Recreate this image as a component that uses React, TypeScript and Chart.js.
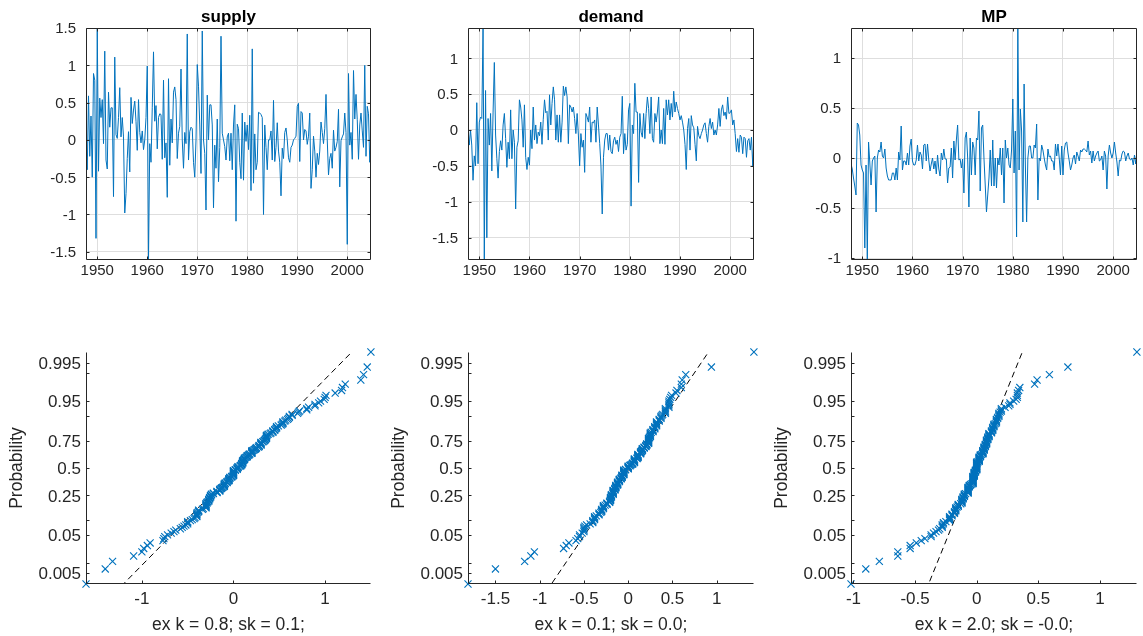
import React, { useEffect, useRef } from "react";
import { Chart, registerables } from "chart.js";

Chart.register(...registerables);

// ---------------- DATA ----------------
const START_YEAR = 1947.75;
const STEP = 0.25;

const seriesNames = ["supply", "demand", "MP"];

const supplyValues = [
  -0.09, -0.4, 0.59, -0.22, 0.32, -0.5, 0.89, 0.8, -1.32, 1.5,
  -0.42, 0.56, 0.3, 0.54, -0.05, 1.19, -0.27, -0.39, 0.64, 0.17, 0.43, 0.43, -0.76, 1.11, 0.07, 0.02, 0.3, 0.7, 0.04, 0.3, 0.04, -0.98,
  -0.72, -0.25, 0.11, -0.43, 0.57, 0.22, 0.4, 0.52, 0.25, -0.14, 0.54, 0.1, -0.04, 0.12, -0.13, 0.0, 0.3, 0.99,
  -1.61,
  -0.05, -0.3, 0.43, 1.18, 0.25, 0.46, -0.12, 0.3, 0.35, 0.34, -0.26, 0.8, -0.24, -0.04, -0.77, 0.82, -0.34, 0.28, -0.04, 0.64, 0.71, 0.54, -0.25, 0.09, 0.18, 0.95, 0.0, -0.38, 0.1, -0.05,
  1.42,
  -0.27, 0.11, 0.17, 0.15, -0.3, -0.5, 0.0, 1.01, 0.72, 0.2, -0.45,
  1.46,
  0.0, -0.18, -0.94, 0.6, 0.0, 0.47, 0.47, 0.2, -0.91, -0.07, -0.38, 0.28, -0.56, -0.1,
  1.39,
  0.09, 0.0, -0.09, -0.27, 0.04, 0.09, -0.28, 0.09, -0.4, 0.2, 0.47,
  -1.09,
  0.21, 0.15, -0.3, -0.52, 0.36, -0.54, 0.24, -0.02, 0.2, -0.13, 0.33, -0.68,
  1.22,
  -0.58, 0.08, -0.4, -0.3, 0.37, 0.36, 0.34, 0.3,
  -1.0,
  0.2, -0.1, -0.4, 0.0, 0.0, 0.12, -0.27, 0.53, -0.29, -0.1, 0.23, -0.15, -0.3, -0.75, -0.11, -0.25, 0.1, 0.16, 0.0, -0.24,
  -0.3, -0.1, -0.07, 0.0, 0.02, 0.05, 0.45, 0.49, -0.29, 0.38, 0.36, 0.0, 0.14, 0.12, -0.06, 0.05, 0.36, -0.65, -0.4, 0.05,
  -0.15, -0.5, -0.18, -0.33, -0.15, 0.24, 0.1, -0.05, 0.15, 0.61, 0.0, -0.47, -0.25, -0.18, -0.38, 0.13, -0.15, -0.1, -0.02, 0.41,
  -0.63, -0.01, 0.04, 0.08, 0.36, 0.1,
  -1.4,
  0.89, -0.07, 0.1, -0.26, 0.93, 0.28, 0.61, 0.27, -0.26, 0.2, 0.36, 0.12, -0.1, 1.0, -0.22, 0.45, 0.35, -0.3, -0.05,
];

const demandValues = [
  0.04, -0.21, 0.0, -0.21, -0.7, -0.36, -0.5, 0.38, -0.47, 0.11,
  0.18, 0.16, 1.42, -1.81, 0.55, -1.5, 0.16, -0.21, 0.23, -0.57,
  0.25, 0.94, -0.07, -0.4, -0.67, -0.3, -0.15, -0.28, 0.07, 0.23,
  -0.12, -0.52, -0.17, -0.4, 0.28, -0.4, 0.0, -0.17, -1.1, -0.24,
  -0.15, 0.42, 0.32, 0.14, -0.24, 0.35, -0.38, -0.55, -0.38, -0.49,
  0.0, -0.26, 0.32, -0.14, 0.07, -0.19, -0.03, -0.08, 0.11, -0.2,
  0.15, 0.42, 0.24, 0.26, -0.14, 0.49, 0.07, 0.37, 0.6, 0.42,
  -0.14, 0.21, -0.17, 0.21, -0.17, 0.11, 0.61, 0.48, 0.6, 0.46,
  -0.19, 0.35, 0.32, 0.25, 0.32, 0.16, -0.05, 0.23, -0.07, -0.5,
  -0.05, -0.24, -0.14, -0.59, 0.23, 0.18, 0.11, 0.32, -0.17, 0.11,
  0.1, 0.14, -0.17, 0.32, 0.07, -0.19, -0.5, -1.17, -0.38, -0.14,
  -0.05, -0.05, -0.28, -0.07, -0.3,
  -0.33, -0.15, -0.1, -0.2, -0.14, -0.3, -0.1, -0.05, 0.47, -0.33,
  -0.05, -0.28, -0.2, 0.28, 0.37, -1.06, 0.07, -0.05, 0.65, 0.25,
  0.25, -0.73, 0.23, -0.03, -0.1, 0.23, -0.12, 0.23, 0.46, 0.3,
  -0.05, 0.46, -0.12, -0.17, 0.23, 0.11, 0.25, 0.46, -0.19, 0.0,
  -0.19, 0.3, -0.2, 0.42, 0.21, 0.42, 0.14, 0.37, 0.18, 0.54,
  0.25, 0.39, 0.3, 0.23, 0.14, 0.2, 0.11, 0.0, -0.2, -0.55,
  0.02, 0.16, -0.28, 0.2, 0.07, 0.03, -0.2, -0.43, 0.05, -0.08,
  -0.12, -0.05, 0.0, 0.07, 0.1, -0.05, -0.17, 0.05, 0.16, 0.02,
  0.11, -0.07, 0.0, -0.07, 0.07, 0.3, 0.05, 0.28, 0.35, 0.2,
  0.25, 0.15, 0.46, 0.23, 0.24, 0.28, 0.07, 0.14, -0.05, -0.3,
  -0.12, -0.31, -0.07, -0.1, -0.33, -0.1, -0.12, -0.38, -0.15, -0.12,
  -0.28, -0.1, -0.5, -0.08,
];

const mpValues = [
  -0.06, -0.11, -0.2, -0.28, -0.37, 0.35, 0.33, 0.23, -0.07, -0.12,
  -0.15, -0.9, -0.07, -1.02, 0.16, -0.05, -0.27, -0.03, 0.0, 0.02,
  -0.54, 0.0, 0.08, 0.06, 0.16, 0.02, 0.0, 0.09, -0.1, -0.18,
  -0.22, -0.22, -0.22, -0.15, -0.15, -0.22, -0.1, -0.22, 0.06, -0.02,
  0.32, -0.12, -0.03, -0.03, -0.07, 0.05, -0.07, 0.12, 0.19, -0.03,
  -0.07, -0.07, -0.02, 0.13, -0.03, 0.06, 0.03, -0.11, 0.13, 0.14,
  -0.03, 0.14, -0.02, -0.13, -0.06, 0.0, -0.11, -0.03, -0.16, 0.03,
  -0.11, -0.18, 0.05, -0.02, 0.09, -0.01, -0.01, -0.25, -0.1, -0.09,
  0.1, -0.2, 0.17, -0.02, 0.18, 0.33, -0.02, -0.01, -0.1, -0.01,
  -0.35, 0.2, 0.26, 0.0, -0.49, 0.2, -0.17, 0.16, 0.1, -0.17,
  0.2, 0.18, 0.47, -0.33, 0.3, 0.33, 0.0, -0.27, -0.54, -0.37,
  -0.2, 0.08, -0.28, 0.18, -0.28,
  0.0, -0.3, 0.0, -0.07, 0.1, -0.17, 0.1, -0.45, 0.18, 0.0,
  0.1, -0.07, -0.1, 0.08, 0.59, -0.15, 0.27, -0.79, 1.3, -0.12,
  0.49, 0.27, -0.64, 0.74, -0.07, -0.64, 0.0, 0.12, 0.12, 0.0,
  0.0, 0.13, 0.1, 0.34, -0.42, 0.0, -0.03, 0.13, 0.08, 0.0,
  -0.07, -0.12, 0.09, 0.01, 0.02, -0.03, -0.03, -0.12, 0.14, 0.02,
  0.14, 0.0, -0.17, 0.12, -0.17, 0.08, 0.15, 0.16, 0.05, -0.03,
  -0.12, -0.07, 0.0, 0.03, -0.06, 0.06, 0.02, -0.03, 0.08, 0.06,
  0.09, 0.09, 0.08, 0.06, 0.17, 0.03, 0.07, -0.05, 0.07, -0.03,
  0.02, 0.05, 0.07, -0.03, -0.02, 0.02, -0.12, 0.07, 0.02, -0.31,
  0.02, 0.13, 0.05, 0.0, 0.05, 0.16, 0.05, -0.04, -0.18, -0.02,
  -0.03, 0.04, 0.07, 0.06, -0.03, 0.02, 0.05, -0.01, -0.02, 0.0,
  -0.07, 0.03, -0.06, 0.08,
];

const timeTicks = [1950, 1960, 1970, 1980, 1990, 2000];
const supplyYTicks = [-1.5, -1, -0.5, 0, 0.5, 1, 1.5];
const demandYTicks = [-1.5, -1, -0.5, 0, 0.5, 1];
const mpYTicks = [-1, -0.5, 0, 0.5, 1];
const probLabeled = [0.005, 0.05, 0.25, 0.5, 0.75, 0.95, 0.995];
const probMinor = [0.01, 0.1, 0.9, 0.99];
const supplyQTicks = [-1, 0, 1];
const demandQTicks = [-1.5, -1, -0.5, 0, 0.5, 1];
const mpQTicks = [-1, -0.5, 0, 0.5, 1];
const statLabels = ["ex k = 0.8; sk = 0.1;", "ex k = 0.1; sk = 0.0;", "ex k = 2.0; sk = -0.0;"];
const yAxisTitle = "Probability";

const SERIES = [supplyValues, demandValues, mpValues];
const Y_TICKS = [supplyYTicks, demandYTicks, mpYTicks];
const Q_TICKS = [supplyQTicks, demandQTicks, mpQTicks];

// ---------------- STYLE / LAYOUT ----------------
const BLUE = "#0072BD";
const AXIS = "#262626";
const TEXT = "#262626";
const GRID = "#dedede";
const FONT = '"Liberation Sans", Arial, Helvetica, sans-serif';
const COL_LEFT = [86, 468, 851];
const COL_RIGHT = [371, 754, 1137];
const TOP_ROW = [28, 260];
const BOT_ROW = [352, 584];
const TICK_LEN = 3;

// ---------------- HELPERS ----------------
function normInv(p: number): number {
  const a = [-3.969683028665376e1, 2.209460984245205e2, -2.759285104469687e2, 1.38357751867269e2, -3.066479806614716e1, 2.506628277459239];
  const b = [-5.447609879822406e1, 1.615858368580409e2, -1.556989798598866e2, 6.680131188771972e1, -1.328068155288572e1];
  const c = [-7.784894002430293e-3, -3.223964580411365e-1, -2.400758277161838, -2.549732539343734, 4.374664141464968, 2.938163982698783];
  const d = [7.784695709041462e-3, 3.224671290700398e-1, 2.445134137142996, 3.754408661907416];
  const plow = 0.02425;
  if (p < plow) {
    const q = Math.sqrt(-2 * Math.log(p));
    return (((((c[0] * q + c[1]) * q + c[2]) * q + c[3]) * q + c[4]) * q + c[5]) / ((((d[0] * q + d[1]) * q + d[2]) * q + d[3]) * q + 1);
  }
  if (p <= 1 - plow) {
    const q = p - 0.5;
    const r = q * q;
    return ((((((a[0] * r + a[1]) * r + a[2]) * r + a[3]) * r + a[4]) * r + a[5]) * q) / (((((b[0] * r + b[1]) * r + b[2]) * r + b[3]) * r + b[4]) * r + 1);
  }
  const q = Math.sqrt(-2 * Math.log(1 - p));
  return -(((((c[0] * q + c[1]) * q + c[2]) * q + c[3]) * q + c[4]) * q + c[5]) / ((((d[0] * q + d[1]) * q + d[2]) * q + d[3]) * q + 1);
}

function prctile(sorted: number[], p: number): number {
  const n = sorted.length;
  const pos = n * p + 0.5;
  if (pos <= 1) return sorted[0];
  if (pos >= n) return sorted[n - 1];
  const lo = Math.floor(pos);
  const f = pos - lo;
  return sorted[lo - 1] + f * (sorted[lo] - sorted[lo - 1]);
}

function fmt(v: number): string {
  return String(Math.round(v * 1000) / 1000);
}

const framePlugin = {
  id: "frame",
  afterDraw(chart: any, _args: any, opts: any) {
    const { ctx, chartArea: a } = chart;
    const xs = chart.scales.x;
    const ys = chart.scales.y;
    ctx.save();
    const l = Math.round(a.left) + 0.5;
    const r = Math.round(a.right) - 0.5;
    const t = Math.round(a.top) + 0.5;
    const b = Math.round(a.bottom) - 0.5;
    ctx.strokeStyle = AXIS;
    ctx.lineWidth = 1;
    ctx.beginPath();
    ctx.moveTo(l, t);
    ctx.lineTo(l, b);
    ctx.lineTo(r, b);
    if (opts.box) {
      ctx.lineTo(r, t);
      ctx.lineTo(l, t);
    }
    xs.ticks.forEach((tk: any) => {
      const px = Math.round(xs.getPixelForValue(tk.value)) + 0.5;
      ctx.moveTo(px, b);
      ctx.lineTo(px, b - TICK_LEN);
      if (opts.box) {
        ctx.moveTo(px, t);
        ctx.lineTo(px, t + TICK_LEN);
      }
    });
    ys.ticks.forEach((tk: any) => {
      const py = Math.round(ys.getPixelForValue(tk.value)) + 0.5;
      ctx.moveTo(l, py);
      ctx.lineTo(l + TICK_LEN, py);
      if (opts.box) {
        ctx.moveTo(r, py);
        ctx.lineTo(r - TICK_LEN, py);
      }
    });
    ctx.stroke();

    ctx.fillStyle = TEXT;
    ctx.font = `${opts.tickSize}px ${FONT}`;
    ctx.textBaseline = "alphabetic";
    ctx.textAlign = "center";
    xs.ticks.forEach((tk: any) => {
      const lab = opts.xFmt(tk.value);
      if (lab) ctx.fillText(lab, xs.getPixelForValue(tk.value), a.bottom + opts.xLabOffset);
    });
    ctx.textAlign = "right";
    ys.ticks.forEach((tk: any) => {
      const lab = opts.yFmt(tk.value);
      if (lab) ctx.fillText(lab, a.left - opts.yLabGap, ys.getPixelForValue(tk.value) + opts.tickSize * 0.36);
    });

    if (opts.title) {
      ctx.fillStyle = "#000";
      ctx.font = `bold ${opts.titleSize}px ${FONT}`;
      ctx.textAlign = "center";
      ctx.fillText(opts.title, (a.left + a.right) / 2, a.top - 6);
    }
    if (opts.xTitle) {
      ctx.fillStyle = TEXT;
      ctx.font = `${opts.labelSize}px ${FONT}`;
      ctx.textAlign = "center";
      ctx.fillText(opts.xTitle, (a.left + a.right) / 2, a.bottom + opts.xTitleOffset);
    }
    if (opts.yTitle) {
      ctx.fillStyle = TEXT;
      ctx.font = `${opts.labelSize}px ${FONT}`;
      ctx.textAlign = "center";
      ctx.translate(a.left - opts.yTitleOffset, (a.top + a.bottom) / 2);
      ctx.rotate(-Math.PI / 2);
      ctx.fillText(opts.yTitle, 0, 0);
    }
    ctx.restore();
  },
};

type Geo = { cx: number; cy: number; cw: number; ch: number };

function timeGeo(c: number): Geo {
  const cx = COL_LEFT[c] - 86;
  return { cx, cy: 0, cw: COL_RIGHT[c] - cx + 6, ch: 300 };
}
function probGeo(c: number): Geo {
  const cx = COL_LEFT[c] - 86;
  return { cx, cy: 330, cw: COL_RIGHT[c] - cx + 6, ch: 306 };
}

function timeConfig(c: number): any {
  const vals = SERIES[c];
  const g = timeGeo(c);
  const [T, B] = TOP_ROW;
  const L = COL_LEFT[c];
  const R = COL_RIGHT[c];
  const xH = 30;
  const data = vals.map((v, i) => ({ x: START_YEAR + i * STEP, y: v }));
  const yT = Y_TICKS[c];
  return {
    type: "line",
    data: {
      datasets: [
        { data, borderColor: BLUE, borderWidth: 1, pointRadius: 0, tension: 0, fill: false },
      ],
    },
    options: {
      responsive: false,
      animation: false,
      events: [],
      layout: { padding: { left: 0, top: T - g.cy, right: g.cx + g.cw - R, bottom: g.cy + g.ch - B - xH } },
      plugins: {
        legend: { display: false },
        tooltip: { enabled: false },
        frame: {
          box: true,
          tickSize: 15,
          titleSize: 17,
          title: seriesNames[c],
          xFmt: (v: number) => fmt(v),
          yFmt: (v: number) => fmt(v),
          xLabOffset: 15,
          yLabGap: 10,
        },
      },
      scales: {
        x: {
          type: "linear",
          min: START_YEAR,
          max: START_YEAR + (vals.length - 1) * STEP,
          afterBuildTicks: (s: any) => {
            s.ticks = timeTicks.map((v) => ({ value: v }));
          },
          afterFit: (s: any) => {
            s.height = xH;
          },
          ticks: { display: false },
          grid: { color: GRID, drawTicks: false, lineWidth: 1 },
          border: { display: false },
        },
        y: {
          type: "linear",
          min: Math.min(...vals),
          max: Math.max(...vals),
          afterBuildTicks: (s: any) => {
            s.ticks = yT.map((v) => ({ value: v }));
          },
          afterFit: (s: any) => {
            s.width = L - g.cx;
          },
          ticks: { display: false },
          grid: { color: GRID, drawTicks: false, lineWidth: 1 },
          border: { display: false },
        },
      },
    },
    plugins: [framePlugin],
  };
}

function probConfig(c: number): any {
  const vals = SERIES[c];
  const g = probGeo(c);
  const [T, B] = BOT_ROW;
  const L = COL_LEFT[c];
  const R = COL_RIGHT[c];
  const xH = g.cy + g.ch - B;
  const sorted = [...vals].sort((p, q) => p - q);
  const n = sorted.length;
  const pts = sorted.map((v, i) => ({ x: v, y: normInv((i + 0.5) / n) }));
  const q1 = prctile(sorted, 0.25);
  const q3 = prctile(sorted, 0.75);
  const z1 = normInv(0.25);
  const z3 = normInv(0.75);
  const slope = (z3 - z1) / (q3 - q1);
  const lineAt = (x: number) => z1 + slope * (x - q1);
  const xmin = sorted[0];
  const xmax = sorted[n - 1];
  const probTicks = [...probLabeled.map((p) => ({ p, show: true })), ...probMinor.map((p) => ({ p, show: false }))];
  const qT = Q_TICKS[c];
  return {
    type: "scatter",
    data: {
      datasets: [
        {
          data: pts,
          showLine: false,
          pointStyle: "crossRot",
          pointRadius: 5,
          borderColor: BLUE,
          backgroundColor: BLUE,
          borderWidth: 1.1,
          clip: false,
        },
        {
          data: [
            { x: xmin, y: lineAt(xmin) },
            { x: xmax, y: lineAt(xmax) },
          ],
          showLine: true,
          pointRadius: 0,
          borderColor: "#000",
          borderWidth: 1,
          borderDash: [6, 4],
        },
      ],
    },
    options: {
      responsive: false,
      animation: false,
      events: [],
      layout: { padding: { left: 0, top: T - g.cy, right: g.cx + g.cw - R, bottom: 0 } },
      plugins: {
        legend: { display: false },
        tooltip: { enabled: false },
        frame: {
          box: false,
          tickSize: 17,
          labelSize: 17.5,
          xFmt: (v: number) => fmt(v),
          yFmt: (z: number) => {
            const hit = probTicks.find((tk) => Math.abs(normInv(tk.p) - z) < 1e-9);
            return hit && hit.show ? String(hit.p) : "";
          },
          xLabOffset: 20,
          yLabGap: 5,
          xTitle: statLabels[c],
          xTitleOffset: 46,
          yTitle: yAxisTitle,
          yTitleOffset: 64,
        },
      },
      scales: {
        x: {
          type: "linear",
          min: xmin,
          max: xmax,
          afterBuildTicks: (s: any) => {
            s.ticks = qT.map((v) => ({ value: v }));
          },
          afterFit: (s: any) => {
            s.height = xH;
          },
          ticks: { display: false },
          grid: { display: false },
          border: { display: false },
        },
        y: {
          type: "linear",
          min: normInv(0.5 / n),
          max: normInv((n - 0.5) / n),
          afterBuildTicks: (s: any) => {
            s.ticks = probTicks.map((tk) => ({ value: normInv(tk.p) }));
          },
          afterFit: (s: any) => {
            s.width = L - g.cx;
          },
          ticks: { display: false },
          grid: { display: false },
          border: { display: false },
        },
      },
    },
    plugins: [framePlugin],
  };
}

function ChartBox({ geo, build }: { geo: Geo; build: () => any }) {
  const ref = useRef<HTMLCanvasElement>(null);
  useEffect(() => {
    const chart = new Chart(ref.current as HTMLCanvasElement, build());
    return () => chart.destroy();
  }, []);
  return (
    <canvas
      ref={ref}
      width={geo.cw}
      height={geo.ch}
      style={{ position: "absolute", left: geo.cx, top: geo.cy, width: geo.cw, height: geo.ch }}
    />
  );
}

export default function App() {
  return (
    <div style={{ position: "absolute", left: 0, top: 0, width: 1143, height: 636, overflow: "hidden", background: "#fff" }}>
      {[0, 1, 2].map((c) => (
        <ChartBox key={"t" + c} geo={timeGeo(c)} build={() => timeConfig(c)} />
      ))}
      {[0, 1, 2].map((c) => (
        <ChartBox key={"p" + c} geo={probGeo(c)} build={() => probConfig(c)} />
      ))}
    </div>
  );
}
